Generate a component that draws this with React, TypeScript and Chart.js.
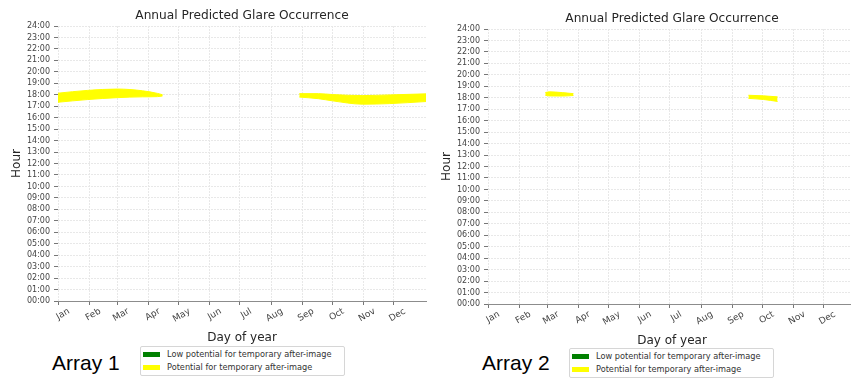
import React, { useEffect, useRef } from "react";
import { Chart, registerables } from "chart.js";

Chart.register(...registerables);

const chartTitle = "Annual Predicted Glare Occurrence";
const xAxisTitle = "Day of year";
const yAxisTitle = "Hour";
const monthNames = ["Jan", "Feb", "Mar", "Apr", "May", "Jun", "Jul", "Aug", "Sep", "Oct", "Nov", "Dec"];
const monthStartDays = [1, 32, 60, 91, 121, 152, 182, 213, 244, 274, 305, 335];
const hourLabels = [
  "00:00", "01:00", "02:00", "03:00", "04:00", "05:00", "06:00", "07:00", "08:00",
  "09:00", "10:00", "11:00", "12:00", "13:00", "14:00", "15:00", "16:00", "17:00",
  "18:00", "19:00", "20:00", "21:00", "22:00", "23:00", "24:00",
];
const legendLabels = ["Low potential for temporary after-image", "Potential for temporary after-image"];
const legendColors = ["#008000", "#ffff00"];

// Array 1 – glare bands (day of year, lower / upper hour)
const a1SpringDays = [1, 30, 60, 85, 100, 105];
const a1SpringLow = [17.35, 17.58, 17.75, 17.82, 17.84, 17.9];
const a1SpringHigh = [18.14, 18.38, 18.5, 18.35, 18.12, 18.0];
const a1AutumnDays = [241, 260, 274, 304, 331, 367];
const a1AutumnLow = [17.8, 17.66, 17.47, 17.18, 17.23, 17.41];
const a1AutumnHigh = [18.1, 18.1, 18.02, 17.93, 17.99, 18.08];

// Array 2 – glare bands
const a2SpringDays = [58, 62, 75, 86];
const a2SpringLow = [18.22, 18.16, 18.15, 18.2];
const a2SpringHigh = [18.45, 18.52, 18.45, 18.36];
const a2AutumnDays = [260, 275, 289];
const a2AutumnLow = [17.95, 17.85, 17.68];
const a2AutumnHigh = [18.22, 18.17, 18.08];

const FONT = "'DejaVu Sans', sans-serif";
const YELLOW = "#ffff00";

function bandDatasets(days: number[], low: number[], high: number[]) {
  const base = {
    borderColor: YELLOW,
    backgroundColor: YELLOW,
    borderWidth: 1,
    pointRadius: 0,
    cubicInterpolationMode: "monotone" as const,
  };
  return [
    { ...base, data: days.map((d, i) => ({ x: d, y: low[i] })), fill: false },
    { ...base, data: days.map((d, i) => ({ x: d, y: high[i] })), fill: "-1" },
  ];
}

function makeConfig(datasets: any[]) {
  return {
    type: "line",
    data: { datasets },
    options: {
      animation: false,
      responsive: false,
      maintainAspectRatio: false,
      events: [],
      layout: { padding: { left: 0, right: 4, top: 0, bottom: 0 } },
      plugins: {
        legend: { display: false },
        tooltip: { enabled: false },
        title: {
          display: true,
          text: chartTitle,
          fullSize: false,
          color: "#262626",
          font: { family: FONT, size: 12.2, weight: "normal" },
          padding: { top: 8.7, bottom: 2.7 },
        },
      },
      scales: {
        x: {
          type: "linear",
          min: 1,
          max: 367,
          afterBuildTicks: (scale: any) => {
            scale.ticks = monthStartDays.map((v) => ({ value: v }));
          },
          afterFit: (scale: any) => {
            scale.height = 44;
          },
          ticks: {
            autoSkip: false,
            minRotation: 30,
            maxRotation: 30,
            labelOffset: 11,
            padding: 1,
            color: "#444",
            font: { family: FONT, size: 9 },
            callback: (v: number) => monthNames[monthStartDays.indexOf(v)] ?? "",
          },
          grid: {
            color: "#e8e8e8",
            tickColor: "#777",
            tickLength: 4,
            tickBorderDash: [],
          },
          border: { display: true, color: "#8c8c8c", width: 1, dash: [2, 1] },
          title: {
            display: true,
            text: xAxisTitle,
            color: "#262626",
            font: { family: FONT, size: 12 },
            padding: { top: 0, bottom: 0 },
          },
        },
        y: {
          type: "linear",
          min: 0,
          max: 24,
          afterFit: (scale: any) => {
            scale.width = 58;
          },
          ticks: {
            stepSize: 1,
            autoSkip: false,
            padding: 4,
            color: "#444",
            font: { family: FONT, size: 8 },
            callback: (v: number) => hourLabels[v] ?? "",
          },
          grid: {
            color: (ctx: any) => (ctx.tick && ctx.tick.value === 0 ? "rgba(0,0,0,0)" : "#e8e8e8"),
            tickColor: "#777",
            tickLength: 4,
            tickBorderDash: [],
          },
          border: { display: false, dash: [2, 1] },
          title: {
            display: true,
            text: yAxisTitle,
            color: "#262626",
            font: { family: FONT, size: 12 },
            padding: { top: 10, bottom: 0 },
          },
        },
      },
    },
  };
}

function ChartCanvas({ datasets, width, height }: { datasets: any[]; width: number; height: number }) {
  const ref = useRef<HTMLCanvasElement | null>(null);
  useEffect(() => {
    if (!ref.current) return;
    const chart = new Chart(ref.current, makeConfig(datasets) as any);
    return () => chart.destroy();
  }, []);
  return <canvas ref={ref} width={width} height={height} style={{ display: "block", width, height }} />;
}

function Legend({ left, top }: { left: number; top: number }) {
  return (
    <div
      style={{
        position: "absolute",
        left,
        top,
        width: 205,
        height: 30,
        border: "1px solid #d6d6d6",
        borderRadius: 2,
        boxSizing: "border-box",
        background: "#fff",
        fontFamily: FONT,
        fontSize: 8.2,
        color: "#333",
      }}
    >
      {legendLabels.map((lab, i) => (
        <div key={lab} style={{ position: "absolute", left: 2, top: 2 + i * 13, height: 10, display: "flex", alignItems: "center", whiteSpace: "nowrap" }}>
          <span style={{ display: "inline-block", width: 17, height: 5, background: legendColors[i], marginRight: 7 }} />
          <span>{lab}</span>
        </div>
      ))}
    </div>
  );
}

export default function App() {
  const ds1 = [
    ...bandDatasets(a1SpringDays, a1SpringLow, a1SpringHigh),
    ...bandDatasets(a1AutumnDays, a1AutumnLow, a1AutumnHigh),
  ];
  const ds2 = [
    ...bandDatasets(a2SpringDays, a2SpringLow, a2SpringHigh),
    ...bandDatasets(a2AutumnDays, a2AutumnLow, a2AutumnHigh),
  ];
  return (
    <div style={{ position: "absolute", left: 0, top: 0, width: 851, height: 378, overflow: "hidden", background: "#fff" }}>
      <div style={{ position: "absolute", left: 0, top: 0 }}>
        <ChartCanvas datasets={ds1} width={430} height={345} />
      </div>
      <div style={{ position: "absolute", left: 430, top: 3, width: 421, overflow: "hidden" }}>
        <ChartCanvas datasets={ds2} width={430} height={345} />
      </div>
      <div style={{ position: "absolute", left: 52, top: 351, fontFamily: "'Liberation Sans', Arial, sans-serif", fontSize: 21, color: "#000" }}>Array 1</div>
      <div style={{ position: "absolute", left: 482, top: 351, fontFamily: "'Liberation Sans', Arial, sans-serif", fontSize: 21, color: "#000" }}>Array 2</div>
      <Legend left={140} top={346} />
      <Legend left={569} top={348} />
    </div>
  );
}
